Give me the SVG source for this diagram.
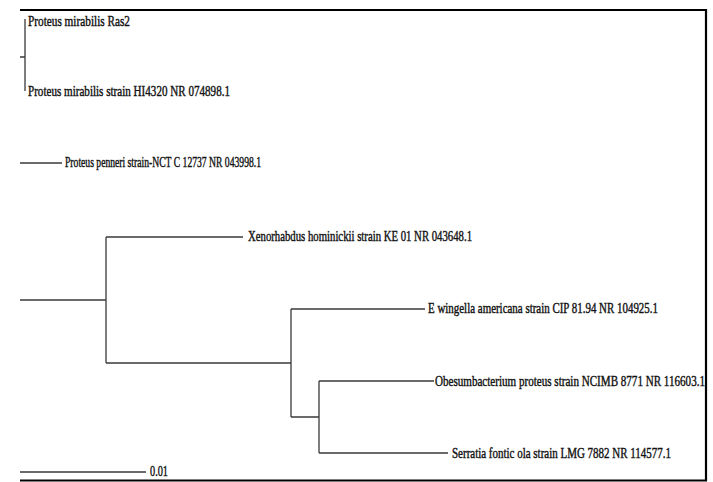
<svg xmlns="http://www.w3.org/2000/svg" width="713" height="482" viewBox="0 0 713 482">
<style>
.t{font-family:"Liberation Serif","Times New Roman",serif;font-size:14px;fill:#111;stroke:#111;stroke-width:0.4}
.b{fill:none;stroke:#3a3a3a;stroke-width:1.3}
.f{fill:none;stroke:#000;stroke-width:2.2}
</style>
<rect width="713" height="482" fill="#fff"/>
<g id="frame">
<polyline class="f" points="20,10 706,10 706,481"/>
<line class="f" x1="20" y1="480.5" x2="707" y2="480.5"/>
</g>
<g id="connectors">
<path class="b" d="M20,57H25M25,19V91"/>
<path class="b" d="M20,163H62"/>
<path class="b" d="M20,300H106M106,237V363M106,237H243M106,363H291"/>
<path class="b" d="M291,309V417M291,309H425M291,417H319"/>
<path class="b" d="M319,381V453M319,381H434M319,453H448"/>
<path class="b" d="M20,472H146"/>
</g>
<g id="n1"><text class="t" x="28" y="26" textLength="102" lengthAdjust="spacingAndGlyphs">Proteus mirabilis Ras2</text></g>
<g id="n2"><text class="t" x="28" y="96" textLength="202" lengthAdjust="spacingAndGlyphs">Proteus mirabilis strain HI4320 NR 074898.1</text></g>
<g id="n3"><text class="t" x="65" y="167" textLength="196" lengthAdjust="spacingAndGlyphs">Proteus penneri strain-NCT C 12737 NR 043998.1</text></g>
<g id="n4"><text class="t" x="248" y="241" textLength="224" lengthAdjust="spacingAndGlyphs">Xenorhabdus hominickii strain KE 01 NR 043648.1</text></g>
<g id="n5"><text class="t" x="428" y="313" textLength="230" lengthAdjust="spacingAndGlyphs">E wingella americana strain CIP 81.94 NR 104925.1</text></g>
<g id="n6"><text class="t" x="435" y="386" textLength="270" lengthAdjust="spacingAndGlyphs">Obesumbacterium proteus strain NCIMB 8771 NR 116603.1</text></g>
<g id="n7"><text class="t" x="452" y="458" textLength="219" lengthAdjust="spacingAndGlyphs">Serratia fontic ola strain LMG 7882 NR 114577.1</text></g>
<g id="scale"><text class="t" x="150" y="476" textLength="18" lengthAdjust="spacingAndGlyphs">0.01</text></g>
</svg>
